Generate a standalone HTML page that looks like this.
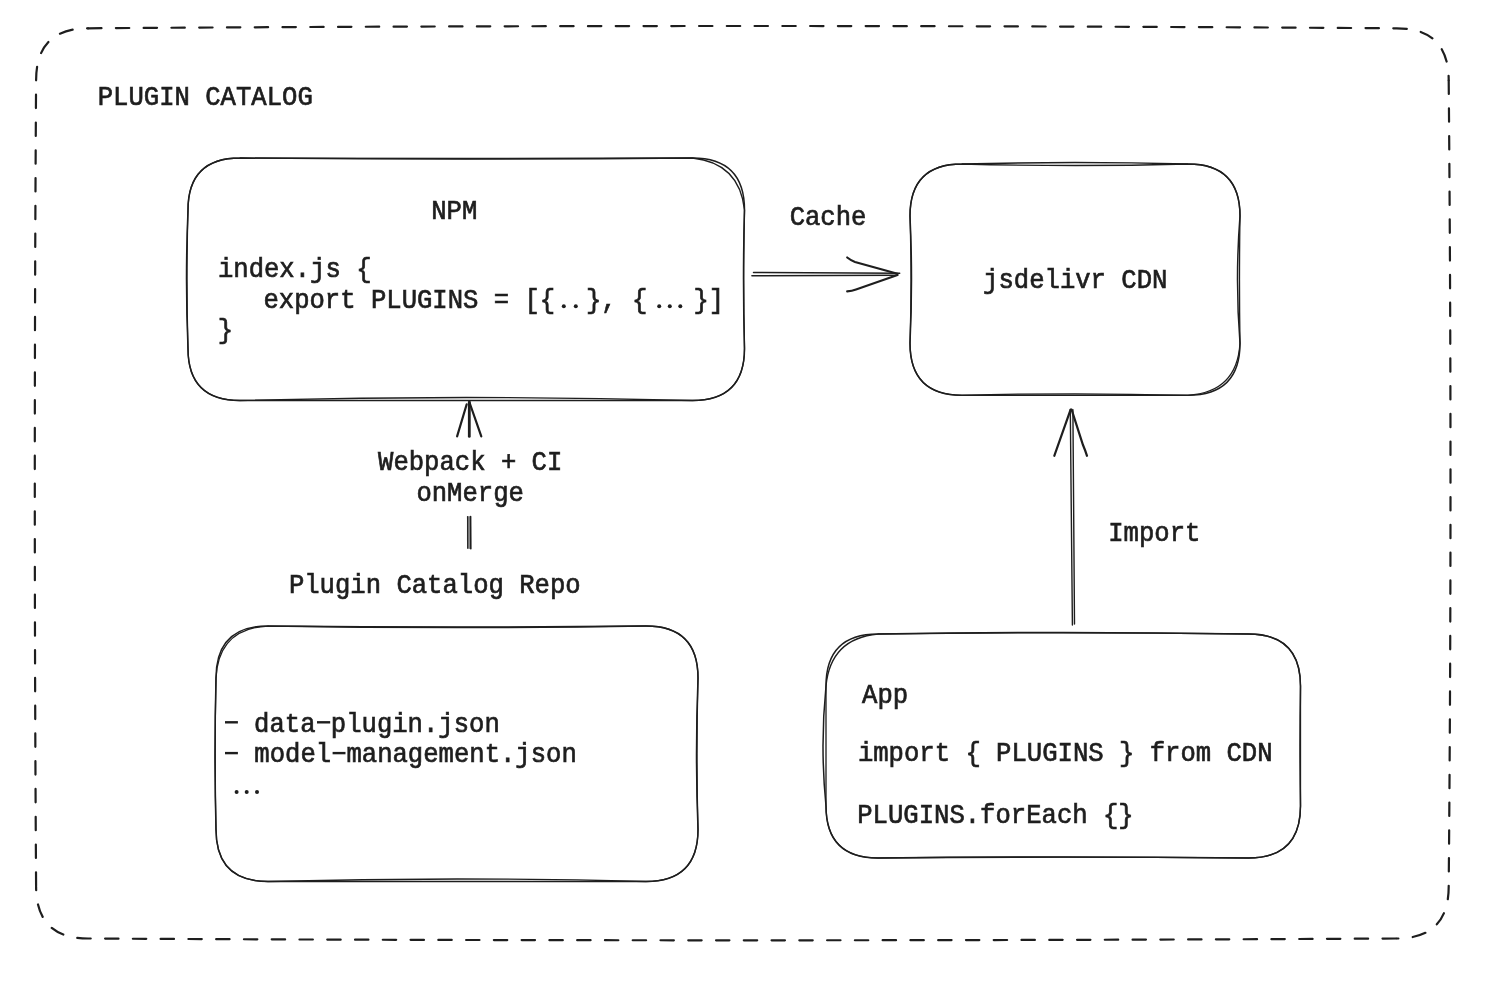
<!DOCTYPE html><html><head><meta charset="utf-8"><style>html,body{margin:0;padding:0;background:#fff;overflow:hidden}svg{display:block;will-change:transform}</style></head><body>
<svg width="1506" height="1002" viewBox="0 0 1506 1002">
<rect width="1506" height="1002" fill="#fff"/>
<path d="M88.1 28.3 Q742.4 23.700000000000003 1396.7 28.3 Q1448.7 28.3 1448.7 80.3" fill="none" stroke="#1e1e1e" stroke-width="2.2" stroke-dasharray="13.4 14.37" stroke-dashoffset="0.00" stroke-linecap="round"/>
<path d="M1448.7 80.3 Q1452.3 483.4 1448.7 886.5 Q1448.7 938.5 1396.7 938.5" fill="none" stroke="#1e1e1e" stroke-width="2.2" stroke-dasharray="13.4 14.37" stroke-dashoffset="27.54" stroke-linecap="round"/>
<path d="M1396.7 938.5 Q742.4 942.1 88.1 938.5 Q36.1 938.5 36.1 886.5" fill="none" stroke="#1e1e1e" stroke-width="2.2" stroke-dasharray="13.4 14.37" stroke-dashoffset="26.97" stroke-linecap="round"/>
<path d="M36.1 886.5 Q33.5 483.4 36.1 80.3 Q36.1 28.3 88.1 28.3" fill="none" stroke="#1e1e1e" stroke-width="2.2" stroke-dasharray="13.4 14.37" stroke-dashoffset="26.94" stroke-linecap="round"/>
<path d="M240.00 158.00 Q466.25 160.00 692.50 158.00 Q744.50 158.00 744.50 210.00 Q742.50 279.25 744.50 348.50 Q744.50 400.50 692.50 400.50 Q466.25 400.50 240.00 400.50 Q188.00 400.50 188.00 348.50 Q185.00 279.25 188.00 210.00 Q188.00 158.00 240.00 158.00" fill="none" stroke="#1e1e1e" stroke-width="1.5" stroke-linecap="round"/>
<path d="M240.00 158.00 Q466.25 159.00 692.50 158.00 Q739.50 163.00 744.50 210.00 Q742.90 279.25 744.50 348.50 Q744.50 400.50 692.50 400.50 Q466.25 394.50 240.00 400.50 Q188.00 400.50 188.00 348.50 Q186.00 279.25 188.00 210.00 Q188.00 158.00 240.00 158.00" fill="none" stroke="#1e1e1e" stroke-width="1.3" stroke-linecap="round"/>
<path d="M962.00 164.00 Q1075.00 161.00 1188.00 164.00 Q1240.00 164.00 1240.00 216.00 Q1235.00 279.65 1240.00 343.30 Q1240.00 395.30 1188.00 395.30 Q1075.00 395.30 962.00 395.30 Q910.00 395.30 910.00 343.30 Q913.00 279.65 910.00 216.00 Q910.00 164.00 962.00 164.00" fill="none" stroke="#1e1e1e" stroke-width="1.5" stroke-linecap="round"/>
<path d="M962.00 164.00 Q1075.00 167.00 1188.00 164.00 Q1240.00 164.00 1240.00 216.00 Q1239.00 279.65 1240.00 343.30 Q1237.00 392.30 1188.00 395.30 Q1075.00 392.30 962.00 395.30 Q910.00 395.30 910.00 343.30 Q912.00 279.65 910.00 216.00 Q910.00 164.00 962.00 164.00" fill="none" stroke="#1e1e1e" stroke-width="1.3" stroke-linecap="round"/>
<path d="M268.00 626.00 Q457.00 629.00 646.00 626.00 Q698.00 626.00 698.00 678.00 Q695.00 753.75 698.00 829.50 Q698.00 881.50 646.00 881.50 Q457.00 881.50 268.00 881.50 Q216.00 881.50 216.00 829.50 Q214.00 753.75 216.00 678.00 Q216.00 626.00 268.00 626.00" fill="none" stroke="#1e1e1e" stroke-width="1.5" stroke-linecap="round"/>
<path d="M268.00 626.00 Q457.00 628.00 646.00 626.00 Q698.00 626.00 698.00 678.00 Q696.00 753.75 698.00 829.50 Q698.00 881.50 646.00 881.50 Q457.00 876.50 268.00 881.50 Q216.00 881.50 216.00 829.50 Q214.40 753.75 216.00 678.00 Q218.50 628.50 268.00 626.00" fill="none" stroke="#1e1e1e" stroke-width="1.3" stroke-linecap="round"/>
<path d="M878.00 634.00 Q1063.25 631.00 1248.50 634.00 Q1300.50 634.00 1300.50 686.00 Q1299.50 746.00 1300.50 806.00 Q1300.50 858.00 1248.50 858.00 Q1063.25 856.00 878.00 858.00 Q826.00 858.00 826.00 806.00 Q820.00 746.00 826.00 686.00 Q826.00 634.00 878.00 634.00" fill="none" stroke="#1e1e1e" stroke-width="1.5" stroke-linecap="round"/>
<path d="M878.00 634.00 Q1063.25 631.60 1248.50 634.00 Q1300.50 634.00 1300.50 686.00 Q1300.50 746.00 1300.50 806.00 Q1300.50 858.00 1248.50 858.00 Q1063.25 856.40 878.00 858.00 Q826.00 858.00 826.00 806.00 Q826.00 746.00 826.00 686.00 Q830.50 638.50 878.00 634.00" fill="none" stroke="#1e1e1e" stroke-width="1.3" stroke-linecap="round"/>
<path d="M753.5 272.4 L899.7 273.3" fill="none" stroke="#1e1e1e" stroke-width="1.5" stroke-linecap="round"/>
<path d="M751.9 275.8 L897.5 275.2" fill="none" stroke="#1e1e1e" stroke-width="1.5" stroke-linecap="round"/>
<path d="M847.2 257.5 Q851 260.5 855 262 L897.5 273.8" fill="none" stroke="#1e1e1e" stroke-width="2.2" stroke-linecap="round"/>
<path d="M847.2 291.4 Q852 291 856 289.5 L897.5 275" fill="none" stroke="#1e1e1e" stroke-width="2.2" stroke-linecap="round"/>
<path d="M469.3 402 L469.3 436.4" fill="none" stroke="#1e1e1e" stroke-width="2.8" stroke-linecap="round"/>
<path d="M457.1 436.4 L466.7 404.3" fill="none" stroke="#1e1e1e" stroke-width="2.2" stroke-linecap="round"/>
<path d="M481.3 436.4 L469.5 402.5" fill="none" stroke="#1e1e1e" stroke-width="2.2" stroke-linecap="round"/>
<path d="M466.9 516.2 L471.1 516.2 L471.3 549.2 L467.0 548.6 Z" fill="#8a8a8a"/>
<path d="M467.6 516.6 L467.7 548.2" fill="none" stroke="#1e1e1e" stroke-width="1.1" stroke-linecap="round"/>
<path d="M470.6 516.6 L470.8 548.8" fill="none" stroke="#1e1e1e" stroke-width="1.5" stroke-linecap="round"/>
<path d="M1070.3 409.6 L1072.4 625" fill="none" stroke="#1e1e1e" stroke-width="1.4" stroke-linecap="round"/>
<path d="M1072.9 409.6 L1074.5 624" fill="none" stroke="#1e1e1e" stroke-width="1.4" stroke-linecap="round"/>
<path d="M1054.3 455.8 L1054.9 454.2 L1070.6 409.6" fill="none" stroke="#1e1e1e" stroke-width="2.2" stroke-linecap="round" stroke-linejoin="round"/>
<path d="M1087.0 455.8 Q1085.5 451 1083 445 L1071.6 409.6" fill="none" stroke="#1e1e1e" stroke-width="2.2" stroke-linecap="round"/>
<g font-family="Liberation Mono" font-size="25.6" fill="#1e1e1e" stroke="#1e1e1e" stroke-width="0.65" style="white-space:pre">
<text xml:space="preserve" transform="translate(97.75 105.00) scale(1 1.09)" x="0" y="0">PLUGIN CATALOG</text>
<text xml:space="preserve" transform="translate(431.20 218.80) scale(1 1.09)" x="0" y="0">NPM</text>
<text xml:space="preserve" transform="translate(217.95 277.10) scale(1 1.09)" x="0" y="0">index.js {</text>
<text xml:space="preserve" transform="translate(263.45 307.70) scale(1 1.09)" x="0" y="0">export PLUGINS = [{  }, {   }]</text>
<text xml:space="preserve" transform="translate(217.80 338.30) scale(1 1.09)" x="0" y="0">}</text>
<text xml:space="preserve" transform="translate(789.65 224.90) scale(1 1.09)" x="0" y="0">Cache</text>
<text xml:space="preserve" transform="translate(983.10 287.50) scale(1 1.09)" x="0" y="0">jsdelivr CDN</text>
<text xml:space="preserve" transform="translate(378.05 469.90) scale(1 1.09)" x="0" y="0">Webpack + CI</text>
<text xml:space="preserve" transform="translate(416.40 501.10) scale(1 1.09)" x="0" y="0">onMerge</text>
<text xml:space="preserve" transform="translate(288.90 592.80) scale(1 1.09)" x="0" y="0">Plugin Catalog Repo</text>
<text xml:space="preserve" transform="translate(223.35 731.50) scale(1 1.09)" x="0" y="0">  data plugin.json</text>
<text xml:space="preserve" transform="translate(223.60 761.80) scale(1 1.09)" x="0" y="0">  model management.json</text>
<text xml:space="preserve" transform="translate(1108.25 541.20) scale(1 1.09)" x="0" y="0">Import</text>
<text xml:space="preserve" transform="translate(862.10 703.00) scale(1 1.09)" x="0" y="0">App</text>
<text xml:space="preserve" transform="translate(857.90 761.00) scale(1 1.09)" x="0" y="0">import { PLUGINS } from CDN</text>
<text xml:space="preserve" transform="translate(857.25 822.80) scale(1 1.09)" x="0" y="0">PLUGINS.forEach {}</text>
</g>
<circle cx="563.8" cy="306.2" r="2.0" fill="#1e1e1e"/>
<circle cx="575.8" cy="306.2" r="2.0" fill="#1e1e1e"/>
<circle cx="659.2" cy="306.2" r="2.0" fill="#1e1e1e"/>
<circle cx="669.8" cy="306.2" r="2.0" fill="#1e1e1e"/>
<circle cx="680.3" cy="306.2" r="2.0" fill="#1e1e1e"/>
<circle cx="236.6" cy="792.1" r="2.0" fill="#1e1e1e"/>
<circle cx="246.7" cy="792.1" r="2.0" fill="#1e1e1e"/>
<circle cx="257.0" cy="792.1" r="2.0" fill="#1e1e1e"/>
<rect x="225" y="721.10" width="12.90" height="2.4" fill="#1e1e1e"/>
<rect x="317" y="721.10" width="13.20" height="2.4" fill="#1e1e1e"/>
<rect x="225" y="751.90" width="12.90" height="2.4" fill="#1e1e1e"/>
<rect x="332.6" y="751.90" width="12.90" height="2.4" fill="#1e1e1e"/>
</svg></body></html>
